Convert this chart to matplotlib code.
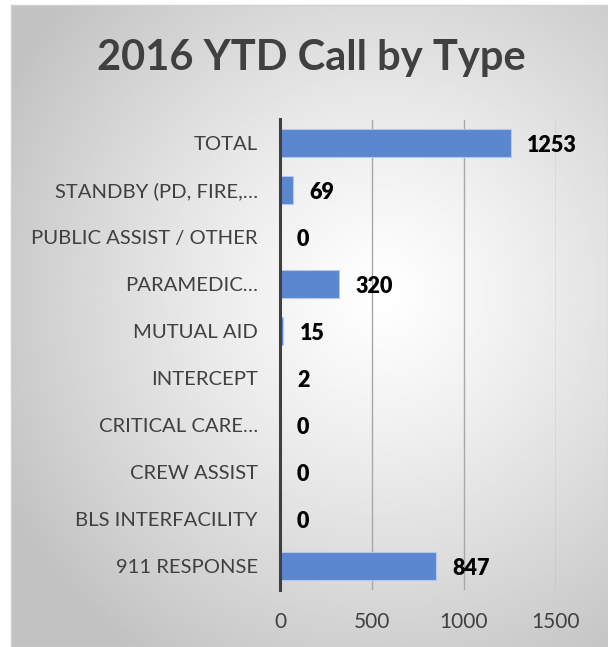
# 2016 YTD calls by type - horizontal bar chart
import numpy as np
import matplotlib.pyplot as plt

categories = ['911 RESPONSE', 'BLS INTERFACILITY', 'CREW ASSIST', 'CRITICAL CARE…',
              'INTERCEPT', 'MUTUAL AID', 'PARAMEDIC…', 'PUBLIC ASSIST / OTHER',
              'STANDBY (PD, FIRE,…', 'TOTAL']
values = [847, 0, 0, 0, 2, 15, 320, 0, 69, 1253]
xticks = [0, 500, 1000, 1500]

plt.rcParams['font.family'] = ['Lato', 'DejaVu Sans']

fig = plt.figure(figsize=(6.08, 6.47), dpi=100)

# фон: радиальный градиент как в Excel
bg = fig.add_axes([11/608, 0, 1 - 11/608, 1 - 5/647])
gx, gy = np.meshgrid(np.linspace(0, 1, 300), np.linspace(0, 1, 300))
r = np.sqrt(((gx - 0.62) * 1.0) ** 2 + ((gy - 0.45) * 1.05) ** 2)
r = np.clip(r / 0.72, 0, 1)
bg.imshow(1 - 0.24 * r ** 1.2, cmap='gray', vmin=0, vmax=1, extent=[0, 1, 0, 1],
          aspect='auto', origin='upper')
bg.set_xticks([])
bg.set_yticks([])
for s in bg.spines.values():
    s.set_color('#d0d0d0')
    s.set_linewidth(1)

ax = fig.add_axes([280/608, 1 - 589.5/647, 276/608, 470/647])
ax.patch.set_alpha(0)
y = np.arange(len(categories))
bars = ax.barh(y, values, height=0.6, color='#5b87cf', edgecolor='#b4c8ea',
               linewidth=0.8, zorder=3)
ax.set_xlim(0, 1500)
ax.set_ylim(-0.5, len(categories) - 0.5)
ax.set_xticks(xticks)
ax.set_yticks(y)
ax.set_yticklabels(categories)
ax.tick_params(axis='both', length=0, labelsize=15, colors='#404040')
ax.tick_params(axis='y', labelsize=14.6, pad=16)
ax.tick_params(axis='x', pad=16)
ax.grid(axis='x', color='#a8a8a8', linewidth=1, zorder=1)
for s in ['top', 'right', 'bottom']:
    ax.spines[s].set_visible(False)
ax.spines['left'].set_color('#404040')
ax.spines['left'].set_linewidth(2.2)
ax.spines['left'].set_zorder(4)

for yi, v in zip(y, values):
    ax.annotate(str(v), (v, yi), xytext=(12, -2), textcoords='offset points',
                va='center', ha='left', fontsize=15.5, fontweight='heavy', color='black')

fig.text(0.5115, 1 - 58/647, '2016 YTD Call by Type', ha='center', va='center',
         fontsize=30, fontweight='bold', color='#404040')

plt.savefig('out.png', dpi=100)
